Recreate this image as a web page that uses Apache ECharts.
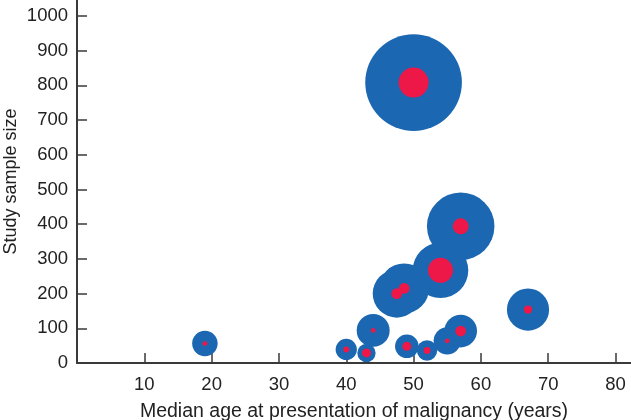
<!DOCTYPE html>
<html>
<head>
<meta charset="utf-8">
<script src="https://cdn.jsdelivr.net/npm/echarts@6/dist/echarts.min.js"></script>
<style>html,body{margin:0;padding:0;background:#fff}#c{width:631px;height:420px}</style>
</head>
<body>
<div id="c"></div>
<script>
// Median age at presentation of malignancy (years)
var ages = [19, 40, 43, 44, 47.5, 48.6, 49, 52, 55, 57, 54, 57, 67, 50];
// Study sample size
var sampleSizes = [56, 39, 29, 94, 200, 215, 48, 36, 64, 92, 267, 394, 154, 808];
// Number of malignancies (inner marker)
var malignancies = [2, 3, 7, 2, 10, 10, 7, 4, 2, 10, 54, 22, 6, 78];
var xTicks = [10, 20, 30, 40, 50, 60, 70, 80];
var yTicks = [0, 100, 200, 300, 400, 500, 600, 700, 800, 900, 1000];

var outer = ages.map(function (a, i) { return [a, sampleSizes[i], sampleSizes[i]]; });
var inner = ages.map(function (a, i) { return [a, sampleSizes[i], malignancies[i]]; });
var sizeFn = function (v) { return 3.4 * Math.sqrt(v[2]); };
var font = "'Liberation Sans', Arial, Helvetica, sans-serif";
var plain = function (v) { return String(v); };

var chart = echarts.init(document.getElementById('c'), null, {renderer: 'canvas'});
chart.setOption({
  animation: false,
  backgroundColor: '#fff',
  grid: {left: 77, right: 0, top: 0, bottom: 57, containLabel: false, outerBoundsMode: 'none'},
  xAxis: {
    type: 'value', min: 0, max: 82.3,
    name: 'Median age at presentation of malignancy (years)',
    nameLocation: 'middle', nameGap: 39, nameMoveOverlap: false,
    nameTextStyle: {fontFamily: font, fontSize: 19.5, color: '#222'},
    axisLine: {lineStyle: {color: '#3a3a3a', width: 2}},
    axisTick: {inside: true, length: 10, customValues: xTicks, lineStyle: {color: '#3a3a3a', width: 1.5}},
    axisLabel: {customValues: xTicks, formatter: plain, margin: 12, fontFamily: font, fontSize: 18.5, color: '#222'},
    splitLine: {show: false}
  },
  yAxis: {
    type: 'value', min: 0, max: 1046,
    name: 'Study sample size',
    nameLocation: 'middle', nameGap: 57, nameMoveOverlap: false,
    nameTextStyle: {fontFamily: font, fontSize: 18, color: '#222'},
    axisLine: {show: true, lineStyle: {color: '#3a3a3a', width: 2}},
    axisTick: {show: true, inside: true, length: 10, customValues: yTicks, lineStyle: {color: '#3a3a3a', width: 1.5}},
    axisLabel: {customValues: yTicks, formatter: plain, margin: 9, fontFamily: font, fontSize: 18.5, color: '#222'},
    splitLine: {show: false}
  },
  series: [
    {type: 'scatter', data: outer, symbolSize: sizeFn, itemStyle: {color: '#1b67b2', opacity: 1}, z: 2},
    {type: 'scatter', data: inner, symbolSize: sizeFn, itemStyle: {color: '#ed1848', opacity: 1}, z: 3}
  ]
});
</script>
</body>
</html>
